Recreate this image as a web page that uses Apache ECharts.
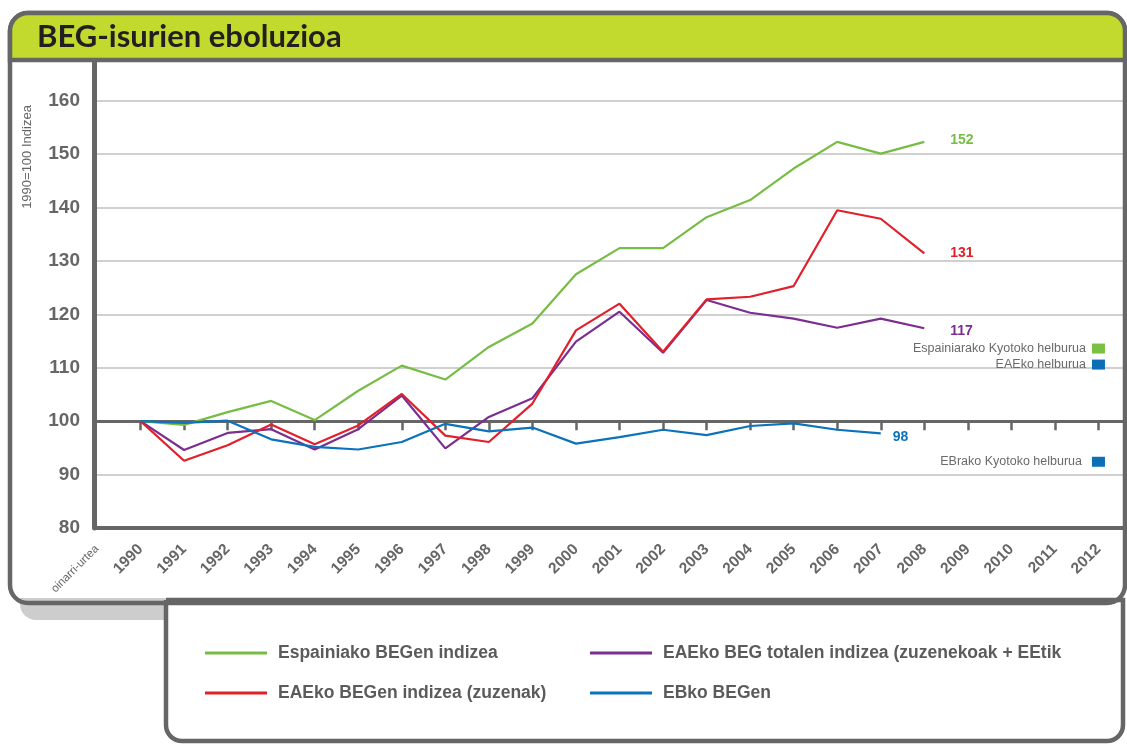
<!DOCTYPE html>
<html>
<head>
<meta charset="utf-8">
<script src="https://cdn.jsdelivr.net/npm/echarts@6/dist/echarts.min.js"></script>
<style>
  html, body { margin: 0; padding: 0; background: #fff; }
  #chart { width: 1127px; height: 745px; }
</style>
</head>
<body>
<div id="chart"></div>
<script>
  // categories (first one is the base year slot, last '' only stretches the grid)
  var years = ['1990', '1991', '1992', '1993', '1994', '1995', '1996', '1997', '1998', '1999',
    '2000', '2001', '2002', '2003', '2004', '2005', '2006', '2007', '2008', '2009', '2010', '2011', '2012']
  var baseLabel = 'oinarri-urtea'

  // series values, 1990..2008 (1990 = 100)
  var spainIdx = [100, 99.3, 101.7, 103.8, 100.2, 105.7, 110.4, 107.8, 113.9, 118.3,
    127.5, 132.4, 132.4, 138.2, 141.4, 147.3, 152.3, 150.1, 152.3]
  var eaeTotal = [100, 94.6, 97.8, 98.5, 94.7, 98.5, 104.8, 94.9, 100.8, 104.3,
    114.9, 120.5, 112.8, 122.7, 120.3, 119.2, 117.5, 119.2, 117.4]
  var eaeDirect = [100, 92.6, 95.5, 99.4, 95.7, 99.2, 105.1, 97.3, 96.1, 103.3,
    117.0, 122.0, 113.0, 122.8, 123.3, 125.3, 139.5, 137.9, 131.4]
  var euIdx = [100, 99.7, 100.1, 96.6, 95.2, 94.7, 96.1, 99.5, 98.1, 98.8,
    95.8, 97.0, 98.4, 97.4, 99.1, 99.6, 98.4, 97.7]

  // Kyoto targets (2012)
  var targetNames = ['Espainiarako Kyotoko helburua', 'EAEko helburua', 'EBrako Kyotoko helburua']
  var targetValues = [113.6, 110.6, 92.4]
  var targetColors = ['#7ac143', '#0b6fb8', '#0b6fb8']

  var yTicks = [80, 90, 100, 110, 120, 130, 140, 150, 160]

  var seriesNames = ['Espainiako BEGen indizea', 'EAEko BEG totalen indizea (zuzenekoak + EEtik',
    'EAEko BEGen indizea (zuzenak)', 'EBko BEGen']
  var seriesColors = ['#77bd45', '#7b2d90', '#e0202b', '#0b72bb']

  var axisData = [baseLabel].concat(years).concat([''])

  // prepend an empty slot for the base-year category
  function withBase(arr) {
    return [null].concat(arr)
  }

  var chart = echarts.init(document.getElementById('chart'))

  var lineSeries = [spainIdx, eaeTotal, eaeDirect, euIdx].map(function(vals, i) {
    var lblDist = i === 3 ? 12 : 26
    var lblOff = [[0, -2], [0, 3], [0, 0], [0, 4]][i]
    return {
      name: seriesNames[i],
      type: 'line',
      data: withBase(vals),
      showSymbol: false,
      symbol: 'none',
      lineStyle: { width: 2.2, color: seriesColors[i] },
      itemStyle: { color: seriesColors[i] },
      endLabel: {
        show: true,
        distance: lblDist,
        offset: lblOff,
        formatter: function(p) { return Math.round(p.value) },
        color: seriesColors[i],
        fontSize: 14,
        fontWeight: 'bold',
        fontFamily: 'Liberation Sans, Arial, sans-serif'
      },
      z: 3
    }
  })

  var targetSeries = targetNames.map(function(n, i) {
    var d = new Array(axisData.length).fill(null)
    d[axisData.indexOf('2012')] = targetValues[i]
    return {
      name: n,
      type: 'scatter',
      data: d,
      symbol: 'rect',
      symbolSize: [13, 10],
      itemStyle: { color: targetColors[i], opacity: 1 },
      label: {
        show: true,
        position: 'left',
        distance: i === 2 ? 10 : 6,
        formatter: n,
        color: '#6a6a6a',
        fontSize: 12.5,
        fontFamily: 'Liberation Sans, Arial, sans-serif'
      },
      z: 3
    }
  })

  var legendText = {
    fontSize: 17.5,
    fontWeight: 'bold',
    color: '#5b5b5b',
    fontFamily: 'Liberation Sans, Arial, sans-serif',
    padding: [0, 0, 0, 6]
  }

  chart.setOption({
    animation: false,
    backgroundColor: '#fff',
    grid: { left: 97, top: 58, width: 1045, height: 470, outerBoundsMode: 'none' },
    legend: [
      {
        data: [seriesNames[0], seriesNames[2]],
        left: 200, top: 639, orient: 'vertical',
        icon: 'rect', itemWidth: 62, itemHeight: 3, itemGap: 22,
        textStyle: legendText, selectedMode: false
      },
      {
        data: [seriesNames[1], seriesNames[3]],
        left: 585, top: 639, orient: 'vertical',
        icon: 'rect', itemWidth: 62, itemHeight: 3, itemGap: 22,
        textStyle: legendText, selectedMode: false
      }
    ],
    xAxis: [
      {
        type: 'category',
        data: axisData,
        boundaryGap: false,
        axisLine: { lineStyle: { color: '#666', width: 4 } },
        axisTick: { show: false },
        axisLabel: {
          interval: 0,
          rotate: 45,
          margin: 19,
          color: '#666',
          fontSize: 15.5,
          fontWeight: 'bold',
          fontFamily: 'Liberation Sans, Arial, sans-serif',
          formatter: function(v, i) { return i === 0 ? '{s|' + v + '}' : v },
          rich: { s: { fontSize: 11.5, fontWeight: 'normal', color: '#666' } }
        },
        splitLine: { show: false }
      },
      {
        // axis line at 100 with ticks
        type: 'category',
        data: axisData,
        boundaryGap: false,
        position: 'bottom',
        offset: -106.8,
        axisLine: { lineStyle: { color: '#666', width: 3 } },
        axisTick: {
          show: true,
          length: 9,
          interval: function(i) { return i >= 1 && i <= years.length },
          lineStyle: { color: '#666', width: 2.5 }
        },
        axisLabel: { show: false },
        splitLine: { show: false }
      }
    ],
    yAxis: {
      type: 'value',
      min: yTicks[0],
      max: 168,
      interval: 10,
      offset: 3,
      axisLine: { show: true, lineStyle: { color: '#666', width: 5 } },
      axisTick: { show: false },
      axisLabel: {
        margin: 14,
        showMaxLabel: false,
        color: '#666',
        fontSize: 19,
        fontWeight: 'bold',
        fontFamily: 'Liberation Sans, Arial, sans-serif'
      },
      splitLine: {
        show: true,
        showMaxLine: false,
        lineStyle: { color: '#d0d0d0', width: 2 }
      }
    },
    series: lineSeries.concat(targetSeries),
    graphic: [
      // shadow under the frame
      {
        type: 'rect', z: 0,
        shape: { x: 20, y: 598, width: 148, height: 22, r: [0, 0, 0, 16] },
        style: { fill: '#cdcdcd' }
      },
      // legend box
      {
        type: 'rect', z: 1,
        shape: { x: 166, y: 600, width: 957, height: 141, r: [0, 0, 16, 16] },
        style: { fill: '#fff', stroke: '#666', lineWidth: 4.5 }
      },
      // outer frame
      {
        type: 'rect', z: 10,
        shape: { x: 10, y: 13, width: 1115, height: 590, r: 18 },
        style: { fill: 'none', stroke: '#666', lineWidth: 4.5 }
      },
      // title bar
      {
        type: 'rect', z: 11,
        shape: { x: 10, y: 13, width: 1115, height: 47, r: [18, 18, 0, 0] },
        style: { fill: '#c2d92e', stroke: '#666', lineWidth: 4.5 }
      },
      {
        type: 'text', z: 12,
        x: 37, y: 37,
        style: {
          text: 'BEG-isurien eboluzioa',
          fill: '#231f20',
          font: 'bold 31px Lato, "Open Sans", sans-serif',
          textVerticalAlign: 'middle'
        }
      },
      // y axis name
      {
        type: 'text', z: 12,
        x: 27, y: 157,
        rotation: Math.PI / 2,
        style: {
          text: '1990=100 Indizea',
          fill: '#666',
          font: '13px "Liberation Sans", Arial, sans-serif',
          textAlign: 'center',
          textVerticalAlign: 'middle'
        }
      }
    ]
  })
</script>
</body>
</html>
